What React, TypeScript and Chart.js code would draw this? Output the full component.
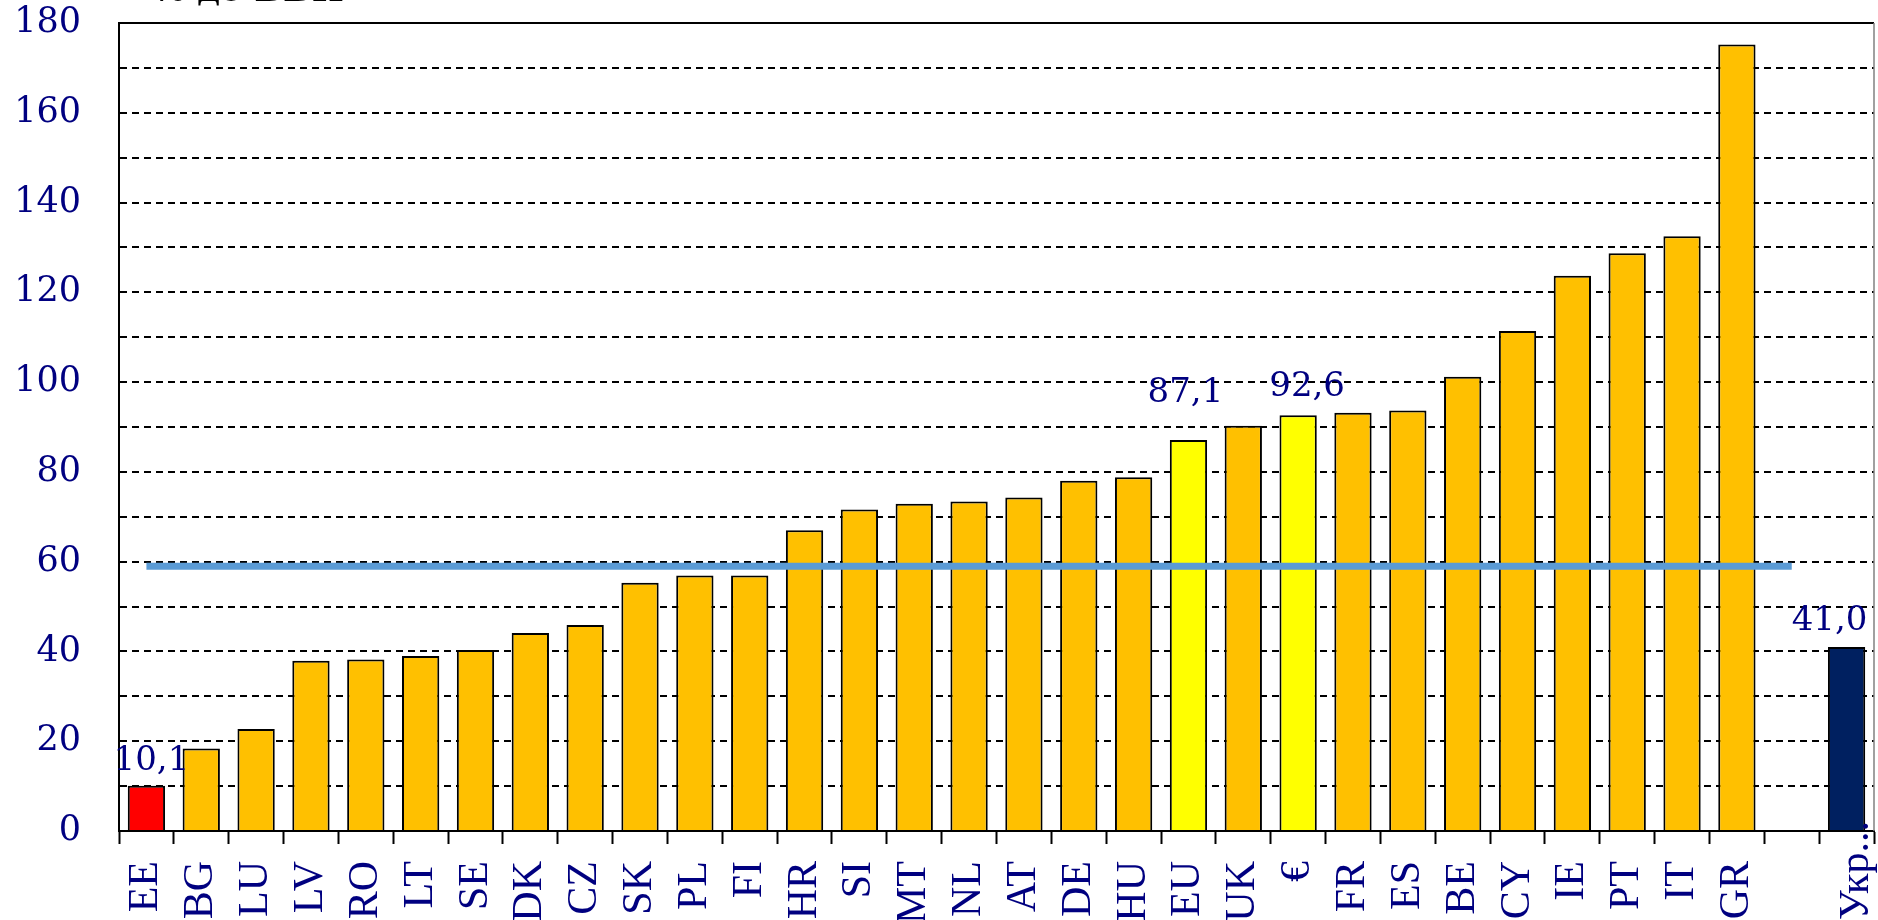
import React, { useEffect, useRef } from "react";
import { Chart, registerables } from "chart.js";

Chart.register(...registerables);

// ---- data ----
const categories = [
  "EE", "BG", "LU", "LV", "RO", "LT", "SE", "DK", "CZ", "SK",
  "PL", "FI", "HR", "SI", "MT", "NL", "AT", "DE", "HU", "EU",
  "UK", "€", "FR", "ES", "BE", "CY", "IE", "PT", "IT", "GR",
  "", "Укр...",
];

const debtValues: (number | null)[] = [
  10.1, 18.4, 22.7, 37.9, 38.2, 39.0, 40.3, 44.1, 45.9, 55.3,
  56.9, 56.9, 67.0, 71.6, 72.9, 73.4, 74.3, 78.0, 78.8, 87.1,
  90.3, 92.6, 93.2, 93.7, 101.2, 111.4, 123.7, 128.7, 132.5, 175.2,
  null, 41.0,
];

const thresholdValue = 59;
const thresholdValues: (number | null)[] = categories.map((c, i) =>
  i < categories.length - 1 ? thresholdValue : null
);

const valueLabels: Record<string, string> = {
  EE: "10,1",
  EU: "87,1",
  "€": "92,6",
  "Укр...": "41,0",
};

const yTickValues = [0, 20, 40, 60, 80, 100, 120, 140, 160, 180];
const unitTitle = "% до ВВП";
const raisedLabel = "Укр...";

// ---- styles ----
const NAVY = "#000080";
const X_FONT = "42px 'Liberation Serif'";
const barColorFor = (c: string) => {
  if (c === "EE") return "#FF0000";
  if (c === "EU" || c === "€") return "#FFFF00";
  if (c === raisedLabel) return "#002060";
  return "#FFC000";
};
const labelStyle: Record<string, { dx: number; gap: number }> = {
  EE: { dx: 5, gap: 16 },
  EU: { dx: -3, gap: 38 },
  "€": { dx: 9, gap: 19 },
  "Укр...": { dx: -17, gap: 17 },
};

const valueLabelPlugin = {
  id: "valueLabels",
  afterDatasetsDraw(chart: any) {
    const meta = chart.getDatasetMeta(1);
    const ctx = chart.ctx;
    ctx.save();
    ctx.font = "34px 'DejaVu Serif'";
    ctx.fillStyle = NAVY;
    ctx.textAlign = "center";
    ctx.textBaseline = "alphabetic";
    categories.forEach((c, i) => {
      const txt = valueLabels[c];
      if (!txt) return;
      const el = meta.data[i];
      const st = labelStyle[c] || { dx: 0, gap: 16 };
      ctx.fillText(txt, el.x + st.dx, el.y - st.gap);
    });
    ctx.restore();
  },
};

const frameAndTitlePlugin = {
  id: "frameAndTitle",
  afterDraw(chart: any) {
    const { ctx, chartArea } = chart;
    ctx.save();
    ctx.strokeStyle = "#000";
    ctx.lineWidth = 2;
    ctx.beginPath();
    ctx.moveTo(chartArea.left, chartArea.top);
    ctx.lineTo(chartArea.right, chartArea.top);
    ctx.stroke();
    ctx.strokeStyle = "#808080";
    ctx.lineWidth = 1.5;
    ctx.beginPath();
    ctx.moveTo(chartArea.right, chartArea.top);
    ctx.lineTo(chartArea.right, chartArea.bottom);
    ctx.stroke();

    // raised category label (last category), anchored on the x scale
    const xs = chart.scales.x;
    const idx = categories.indexOf(raisedLabel);
    const px = xs.getPixelForValue(idx) + 10;
    ctx.fillStyle = NAVY;
    ctx.font = X_FONT;
    ctx.translate(px, chartArea.bottom - 10);
    ctx.rotate(-Math.PI / 2);
    ctx.textAlign = "right";
    ctx.textBaseline = "middle";
    ctx.fillText(raisedLabel, 0, 0);
    ctx.setTransform(1, 0, 0, 1, 0, 0);

    ctx.fillStyle = "#000";
    ctx.font = "bold 34px 'DejaVu Serif'";
    ctx.textAlign = "left";
    ctx.textBaseline = "alphabetic";
    ctx.fillText(unitTitle, 153, 1);
    ctx.restore();
  },
};

export default function App() {
  const canvasRef = useRef<HTMLCanvasElement | null>(null);

  useEffect(() => {
    if (!canvasRef.current) return;
    const chart = new Chart(canvasRef.current, {
      type: "bar",
      data: {
        labels: categories,
        datasets: [
          {
            type: "line",
            data: thresholdValues,
            borderColor: "#5B9BD5",
            borderWidth: 7,
            pointRadius: 0,
            fill: false,
            order: 0,
          } as any,
          {
            type: "bar",
            data: debtValues,
            backgroundColor: categories.map(barColorFor),
            borderColor: "#000",
            borderWidth: 2,
            barPercentage: 0.68,
            categoryPercentage: 1,
            order: 1,
          },
        ],
      },
      options: {
        responsive: false,
        animation: false,
        layout: { padding: { left: 0, top: 23, right: 4, bottom: 0 } },
        plugins: {
          legend: { display: false },
          tooltip: { enabled: false },
          title: { display: false },
        },
        scales: {
          x: {
            offset: true,
            grid: {
              offset: true,
              drawOnChartArea: false,
              drawTicks: true,
              tickLength: 13,
              tickColor: "#000",
              tickWidth: 2,
            },
            border: { display: true, color: "#000", width: 2 },
            ticks: {
              autoSkip: false,
              maxRotation: 90,
              minRotation: 90,
              padding: 17,
              color: NAVY,
              font: { family: "'Liberation Serif'", size: 42 },
              callback: (_v: any, i: number) =>
                categories[i] === raisedLabel ? "" : categories[i],
            },
            afterFit(scale: any) {
              scale.height = 89;
              scale.paddingLeft = 0;
              scale.paddingRight = 0;
            },
          },
          y: {
            min: 0,
            max: 180,
            grid: {
              color: "#000",
              lineWidth: 2,
              drawTicks: false,
            },
            border: { display: true, color: "#000", width: 2, dash: [7, 5] },
            ticks: {
              autoSkip: false,
              stepSize: 10,
              padding: 38,
              color: NAVY,
              font: { family: "'DejaVu Serif'", size: 35 },
              callback: (v: any) => (yTickValues.includes(Number(v)) ? String(v) : ""),
            },
            afterFit(scale: any) {
              scale.width = 119;
              scale.paddingTop = 0;
              scale.paddingBottom = 0;
            },
          },
        },
      },
      plugins: [valueLabelPlugin, frameAndTitlePlugin],
    });
    return () => chart.destroy();
  }, []);

  return (
    <div style={{ position: "absolute", left: 0, top: 0, width: 1878, height: 920, background: "#fff" }}>
      <canvas ref={canvasRef} width={1878} height={920} style={{ display: "block" }} />
    </div>
  );
}
